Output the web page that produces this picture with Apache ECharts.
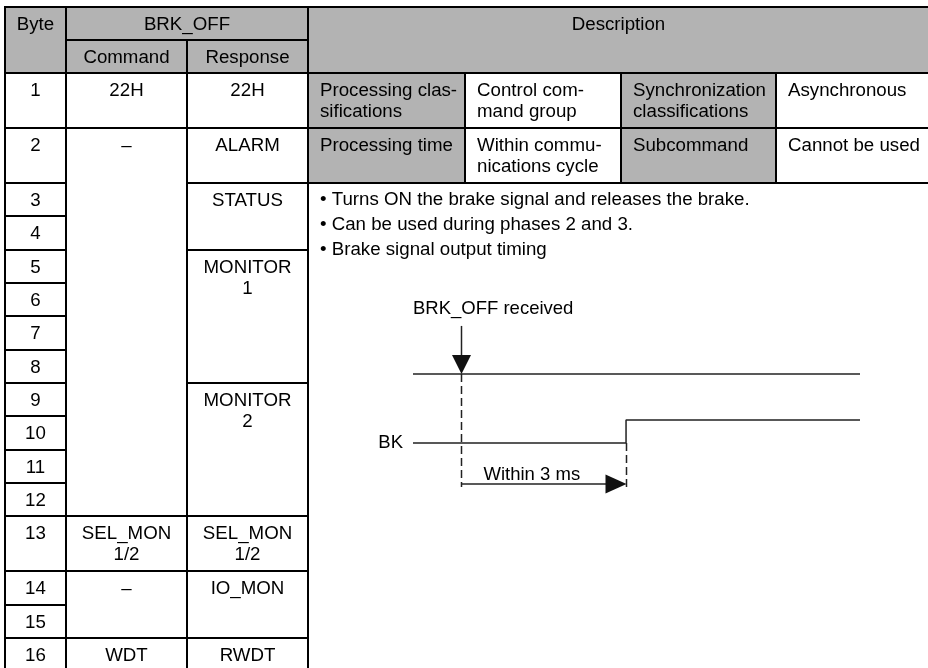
<!DOCTYPE html>
<html>
<head>
<meta charset="utf-8">
<script src="https://cdn.jsdelivr.net/npm/echarts@6/dist/echarts.min.js"></script>
<style>html,body{margin:0;padding:0;background:#fff}#c{width:928px;height:668px}</style>
</head>
<body>
<div id="c"></div>
<script>
// ---------------- DATA ----------------
const headerByte = 'Byte';
const headerCommandName = 'BRK_OFF';
const headerSub = ['Command', 'Response'];
const headerDescription = 'Description';
const byteNumbers = ['1','2','3','4','5','6','7','8','9','10','11','12','13','14','15','16'];
const commandTexts = ['22H', '–', 'SEL_MON\n1/2', '–', 'WDT'];
const commandSpans = [[1,1],[2,12],[13,13],[14,15],[16,16]];
const responseTexts = ['22H', 'ALARM', 'STATUS', 'MONITOR\n1', 'MONITOR\n2', 'SEL_MON\n1/2', 'IO_MON', 'RWDT'];
const responseSpans = [[1,1],[2,2],[3,4],[5,8],[9,12],[13,13],[14,15],[16,16]];
const descRow1 = ['Processing clas-\nsifications', 'Control com-\nmand group', 'Synchronization\nclassifications', 'Asynchronous'];
const descRow2 = ['Processing time', 'Within commu-\nnications cycle', 'Subcommand', 'Cannot be used'];
const descBullets = ['Turns ON the brake signal and releases the brake.', 'Can be used during phases 2 and 3.', 'Brake signal output timing'];

// timing diagram (time in ms, signal levels)
const timingLabels = ['BRK_OFF received', 'BK', 'Within 3 ms'];
const cmdSignalTime = [-0.87, 7.25];
const cmdSignalLevel = [3, 3];
const bkTime = [-0.87, 3, 3, 7.25];
const bkLevel = [0, 0, 1, 1];
const brkOffReceivedAt = 0;
const bkOnDelay = 3;

// ---------------- LAYOUT ----------------
const FONT = '"Liberation Sans", Arial, Helvetica, sans-serif';
const FS = 18.7;
const GRAY = '#b3b3b3';
const INK = '#000000';
const COL = [5, 66, 187, 308, 465, 621, 776, 929];
const HEAD = [7, 40, 73];
const ROW_H = [55, 55, 33.33, 33.33, 33.33, 33.33, 33.33, 33.33, 33.33, 33.33, 33.33, 33.33, 55, 33.33, 33.33, 33.33];
const rowEdge = [HEAD[2]];
ROW_H.forEach(h => rowEdge.push(rowEdge[rowEdge.length - 1] + h));
const rTop = r => rowEdge[r - 1];
const rBot = r => rowEdge[r];

const cells = [];
function addCell(x0, x1, y0, y1, text, fill, align) {
  cells.push({x0, x1, y0, y1, text: text || '', fill, align: align || 'center'});
}
// headers
addCell(COL[0], COL[1], HEAD[0], HEAD[2], headerByte, GRAY);
addCell(COL[1], COL[3], HEAD[0], HEAD[1], headerCommandName, GRAY);
addCell(COL[1], COL[2], HEAD[1], HEAD[2], headerSub[0], GRAY);
addCell(COL[2], COL[3], HEAD[1], HEAD[2], headerSub[1], GRAY);
addCell(COL[3], COL[7], HEAD[0], HEAD[2], headerDescription, GRAY);
// body
byteNumbers.forEach((b, i) => addCell(COL[0], COL[1], rTop(i + 1), rBot(i + 1), b, '#fff'));
commandTexts.forEach((t, i) => addCell(COL[1], COL[2], rTop(commandSpans[i][0]), rBot(commandSpans[i][1]), t, '#fff'));
responseTexts.forEach((t, i) => addCell(COL[2], COL[3], rTop(responseSpans[i][0]), rBot(responseSpans[i][1]), t, '#fff'));
[descRow1, descRow2].forEach((row, r) => {
  row.forEach((t, k) => addCell(COL[3 + k], COL[4 + k], rTop(r + 1), rBot(r + 1), t, k % 2 === 0 ? GRAY : '#fff', 'left'));
});
addCell(COL[3], COL[7], rTop(3), rBot(16), descBullets.map(s => '• ' + s).join('\n'), '#fff', 'bullets');

// timing layout levels
const ARROW_TOP_LEVEL = 5.09;
const DIM_LEVEL = -1.78;
const DASH0_BOTTOM = -1.91;
const DASH1_BOTTOM = -2.04;

const chart = echarts.init(document.getElementById('c'), null, {renderer: 'canvas'});

const option = {
  animation: false,
  backgroundColor: '#ffffff',
  grid: [
    {left: 0, top: 0, width: 928, height: 668},
    {left: 413, top: 443 - 5.2 * 23, width: 447, height: 7.4 * 23}
  ],
  xAxis: [
    {type: 'value', gridIndex: 0, min: 0, max: 928, show: false},
    {type: 'value', gridIndex: 1, min: cmdSignalTime[0], max: cmdSignalTime[1], show: false}
  ],
  yAxis: [
    {type: 'value', gridIndex: 0, min: 0, max: 668, inverse: true, show: false},
    {type: 'value', gridIndex: 1, min: -2.2, max: 5.2, show: false}
  ],
  series: [
    {
      type: 'custom',
      xAxisIndex: 0, yAxisIndex: 0,
      clip: false,
      data: cells.map((c, i) => [c.x0, c.y0, c.x1, c.y1, i]),
      encode: {x: [0, 2], y: [1, 3]},
      renderItem: function (params, api) {
        const c = cells[params.dataIndex];
        const p0 = api.coord([api.value(0), api.value(1)]);
        const p1 = api.coord([api.value(2), api.value(3)]);
        const x = Math.round(p0[0]), y = Math.round(p0[1]);
        const w = Math.round(p1[0]) - x, h = Math.round(p1[1]) - y;
        const children = [
          {type: 'rect', z2: 0, shape: {x, y, width: w, height: h}, style: {fill: c.fill}},
          {type: 'rect', z2: 5, shape: {x, y, width: w, height: h}, style: {fill: null, stroke: '#000', lineWidth: 2}}
        ];
        if (c.text) {
          const isB = c.align === 'bullets';
          const left = c.align === 'left' || isB;
          const rightEdge = Math.min(x + w, 929);
          children.push({
            type: 'text', z2: 10,
            style: {
              text: c.text,
              x: left ? x + 12 : (x + rightEdge) / 2,
              y: isB ? y + 4 : y + 7.5,
              align: left ? 'left' : 'center',
              verticalAlign: 'top',
              fontSize: FS,
              fontFamily: FONT,
              lineHeight: isB ? 25 : 21,
              fill: INK
            }
          });
        }
        return {type: 'group', children};
      }
    },
    {
      type: 'line',
      xAxisIndex: 1, yAxisIndex: 1,
      clip: false,
      symbol: 'none',
      data: cmdSignalTime.map((t, i) => [t, cmdSignalLevel[i]]),
      lineStyle: {color: '#222', width: 1.5},
      z: 3
    },
    {
      type: 'line',
      xAxisIndex: 1, yAxisIndex: 1,
      clip: false,
      symbol: 'none',
      data: bkTime.map((t, i) => [t, bkLevel[i]]),
      lineStyle: {color: '#222', width: 1.5},
      z: 3
    },
    {
      type: 'custom',
      xAxisIndex: 1, yAxisIndex: 1,
      clip: false,
      z: 4,
      data: [[brkOffReceivedAt, brkOffReceivedAt + bkOnDelay]],
      encode: {x: [0, 1]},
      renderItem: function (params, api) {
        const t0 = api.value(0), t1 = api.value(1);
        const xs = api.coord([cmdSignalTime[0], 0])[0];
        const a0 = api.coord([t0, ARROW_TOP_LEVEL]);
        const tip0 = api.coord([t0, cmdSignalLevel[0]]);
        const d0 = api.coord([t0, DASH0_BOTTOM]);
        const r1 = api.coord([t1, 0]);
        const d1 = api.coord([t1, DASH1_BOTTOM]);
        const dim0 = api.coord([t0, DIM_LEVEL]);
        const dim1 = api.coord([t1, DIM_LEVEL]);
        const bkY = api.coord([t0, 0])[1];
        const ln = {stroke: '#222', lineWidth: 1.5};
        const ink = '#111';
        const txt = {fontSize: 18.5, fontFamily: FONT, fill: INK};
        const X0 = Math.round(tip0[0]) + 0.5, X1 = Math.round(r1[0]) + 0.5;
        return {
          type: 'group',
          children: [
            {type: 'line', shape: {x1: X0, y1: a0[1], x2: X0, y2: tip0[1] - 19}, style: ln},
            {type: 'polygon', shape: {points: [[X0, tip0[1]], [X0 - 9.5, tip0[1] - 19], [X0 + 9.5, tip0[1] - 19]]}, style: {fill: ink}},
            {type: 'line', shape: {x1: X0, y1: tip0[1], x2: X0, y2: d0[1]}, style: Object.assign({lineDash: [8, 4]}, ln)},
            {type: 'line', shape: {x1: X1, y1: r1[1], x2: X1, y2: d1[1]}, style: Object.assign({lineDash: [8, 4]}, ln)},
            {type: 'line', shape: {x1: X0, y1: dim0[1], x2: X1 - 20, y2: dim1[1]}, style: ln},
            {type: 'polygon', shape: {points: [[X1, dim1[1]], [X1 - 21, dim1[1] - 9.5], [X1 - 21, dim1[1] + 9.5]]}, style: {fill: ink}},
            {type: 'text', style: Object.assign({text: timingLabels[0], x: xs, y: a0[1] - 17, align: 'left', verticalAlign: 'middle'}, txt)},
            {type: 'text', style: Object.assign({text: timingLabels[1], x: xs - 10, y: bkY, align: 'right', verticalAlign: 'middle'}, txt)},
            {type: 'text', style: Object.assign({text: timingLabels[2], x: X0 + 22, y: dim0[1] - 9, align: 'left', verticalAlign: 'middle'}, txt)}
          ]
        };
      }
    }
  ]
};
chart.setOption(option);
</script>
</body>
</html>
